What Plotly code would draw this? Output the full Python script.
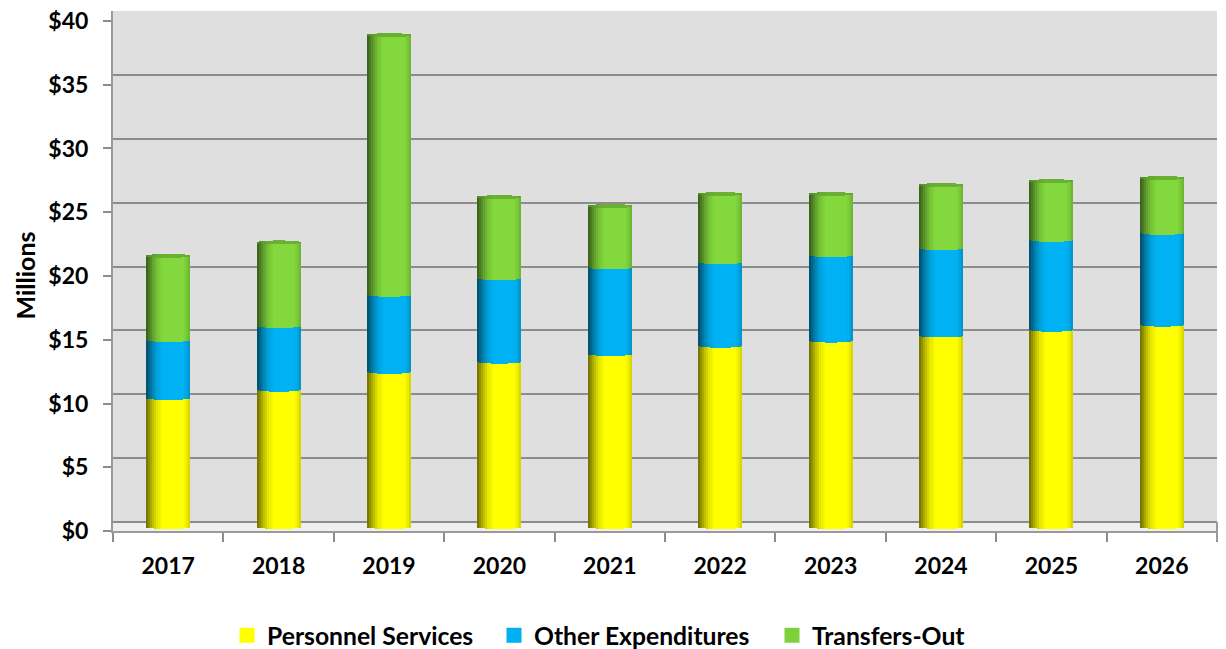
import math
import plotly.graph_objects as go

years = ["2017", "2018", "2019", "2020", "2021", "2022", "2023", "2024", "2025", "2026"]
personnel = [10.12, 10.77, 12.17, 12.97, 13.57, 14.22, 14.62, 15.02, 15.47, 15.87]
other = [4.55, 5.0, 6.05, 6.55, 6.8, 6.55, 6.7, 6.85, 7.05, 7.2]
transfers = [6.6, 6.55, 20.35, 6.35, 4.8, 5.35, 4.8, 4.95, 4.6, 4.3]
y_ticks = [0, 5, 10, 15, 20, 25, 30, 35, 40]
y_labels = ["$0", "$5", "$10", "$15", "$20", "$25", "$30", "$35", "$40"]

PX = 12.775          # pixels per million
PLOT_H = 521
PLOT_W = 1104
BAR_W = 0.4
N = 22
ELL = 2.0 / PX
FONT = "Lato"
FIG_W, FIG_H = 1226, 700
SHADE = [(0, .42), (.06, .55), (.14, .72), (.25, .9), (.38, 1), (.85, 1), (.95, .9), (1, .8)]


def shade(t):
    for (a, va), (b, vb) in zip(SHADE, SHADE[1:]):
        if t <= b:
            return va + (vb - va) * (t - a) / (b - a)
    return SHADE[-1][1]


def rgb(c, k):
    return "rgb(%d,%d,%d)" % tuple(min(255, round(v * k)) for v in c)


series = [("Personnel Services", personnel, (255, 255, 0), "#ffff00", "legend", 227),
          ("Other Expenditures", other, (0, 178, 243), "#00b0f0", "legend2", 494),
          ("Transfers-Out", transfers, (130, 216, 60), "#7fd13b", "legend3", 772)]

fig = go.Figure()
# carrier traces so the overlaid axes exist
fig.add_trace(go.Scatter(x=years, y=[None] * 10, showlegend=False, hoverinfo="skip"))
fig.add_trace(go.Scatter(x=years, y=[None] * 10, yaxis="y2", showlegend=False, hoverinfo="skip"))

cum = [0.0] * len(years)
for name, vals, col, *_ in series:
    for i in range(N):
        t = (i + .5) / N
        e = ELL * math.sqrt(1 - (2 * t - 1) ** 2)
        fig.add_trace(go.Bar(
            x=years, y=vals, base=[c - e for c in cum], yaxis="y3",
            offset=-BAR_W / 2 + i * BAR_W / N, width=BAR_W / N * (1.35 if i < N - 1 else 1),
            marker=dict(color=rgb(col, shade(t)), line=dict(width=0)),
            showlegend=False, name=name))
    cum = [c + v for c, v in zip(cum, vals)]

# elliptical cap on the top of each cylinder
cap_col = (118, 196, 56)
for i in range(N):
    t = (i + .5) / N
    e = ELL * math.sqrt(1 - (2 * t - 1) ** 2)
    fig.add_trace(go.Bar(
        x=years, y=[2 * e] * len(years), base=[c - e for c in cum], yaxis="y3",
        offset=-BAR_W / 2 + i * BAR_W / N, width=BAR_W / N * (1.35 if i < N - 1 else 1),
        marker=dict(color=rgb(cap_col, .55 + .35 * shade(t)), line=dict(width=0)),
        showlegend=False, hoverinfo="skip"))

legend_font = dict(family=FONT, size=24.7, color="#000000", weight=700)
legends = {}
for name, _, _, swatch, lg, px in series:
    fig.add_trace(go.Scatter(x=[None], y=[None], mode="markers", name=name, legend=lg,
                             marker=dict(symbol="square", size=15, color=swatch)))
    legends[lg] = dict(x=(px - 113) / PLOT_W, xanchor="left",
                       y=-(636 - 531) / PLOT_H, yanchor="middle", font=legend_font,
                       bgcolor="rgba(0,0,0,0)", borderwidth=0)

tick_font = dict(family=FONT, size=23, color="#000000", weight=700)
fig.update_layout(
    width=FIG_W, height=FIG_H, autosize=False,
    margin=dict(l=113, r=9, t=6, b=FIG_H - 10 - PLOT_H),
    paper_bgcolor="#ffffff", plot_bgcolor="#dfdfdf",
    barmode="overlay", bargap=0,
    font=dict(family=FONT),
    xaxis=dict(type="category", categoryorder="array", categoryarray=years,
               range=[-.5, 9.5], tickson="boundaries", ticks="outside", ticklen=9,
               tickcolor="#8c8c8c", tickwidth=2, showgrid=False, zeroline=False,
               showline=True, linecolor="#9a9a9a", linewidth=2,
               tickfont=tick_font, ticklabelstandoff=13),
    yaxis=dict(range=[0, PLOT_H / PX], tickvals=y_ticks, ticktext=y_labels,
               ticks="outside", ticklen=8, tickcolor="#8c8c8c", tickwidth=2,
               showgrid=False, zeroline=False, showline=True, linecolor="#9a9a9a", linewidth=2,
               tickfont=tick_font, ticklabelstandoff=10),
    yaxis2=dict(overlaying="y", range=[-9.5 / PX, (PLOT_H - 9.5) / PX], tickvals=y_ticks,
                showticklabels=False, ticks="", showgrid=True, gridcolor="#8c8c8c", gridwidth=2,
                zeroline=False, showline=False),
    yaxis3=dict(overlaying="y", range=[-4 / PX, (PLOT_H - 4) / PX], showticklabels=False,
                ticks="", showgrid=False, zeroline=False, showline=False),
    annotations=[dict(text="Millions", textangle=-90, showarrow=False,
                      xref="paper", yref="paper", xanchor="center", yanchor="middle",
                      x=(25 - 113) / PLOT_W, y=(531 - 275) / PLOT_H,
                      font=dict(family=FONT, size=25, color="#000000", weight=700))],
    shapes=[dict(type="rect", xref="paper", yref="paper", x0=0, x1=1, y0=0, y1=9 / PLOT_H,
                 fillcolor="#efefef", line=dict(width=0), layer="below"),
            dict(type="line", xref="paper", yref="paper", x0=1, x1=1, y0=-10 / PLOT_H, y1=9 / PLOT_H,
                 line=dict(color="#9a9a9a", width=2), layer="above")],
    **legends,
)
fig.write_html("out.html", config={"displayModeBar": False},
               post_script="document.body.style.margin='0';document.documentElement.style.overflow='hidden';")
